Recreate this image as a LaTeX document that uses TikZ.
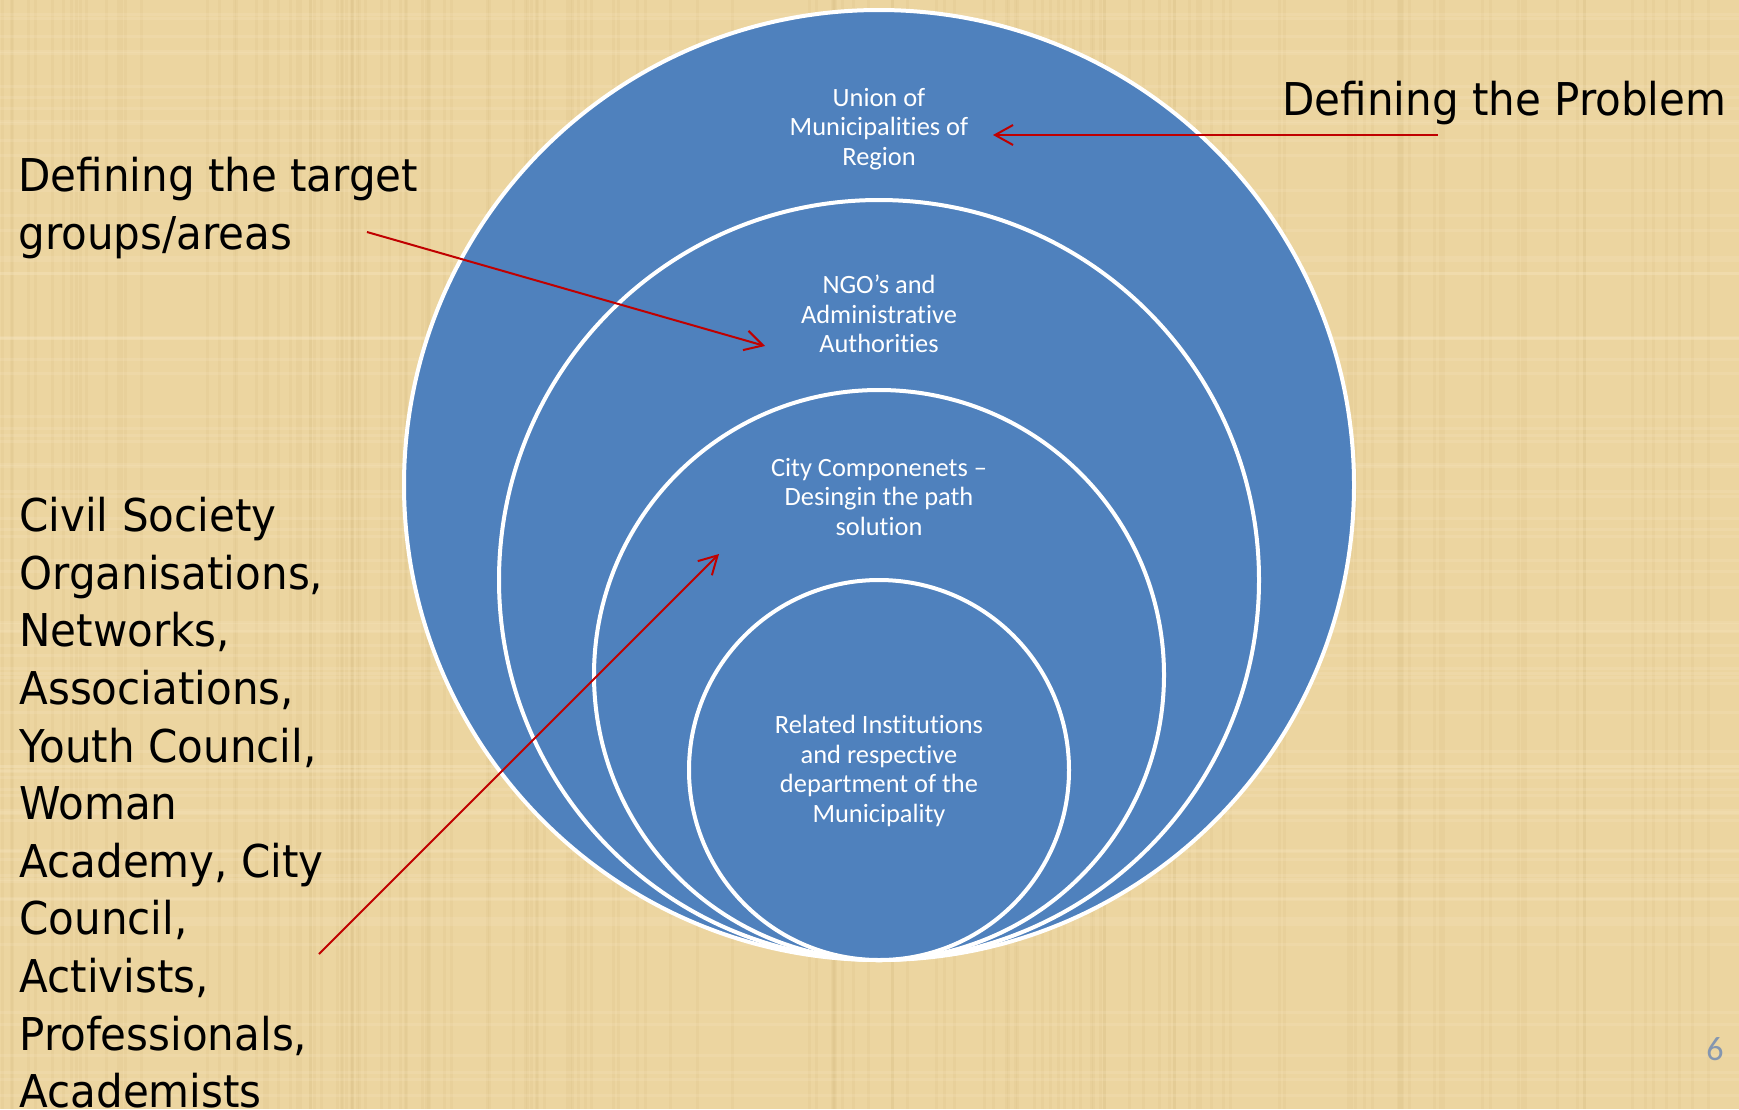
\documentclass[tikz,border=0pt]{standalone}
\usepackage{fontspec}
\setmainfont[Ligatures={NoCommon}]{Carlito}
\newfontfamily\slidefont[FakeStretch=0.93]{DejaVu Sans}
\usetikzlibrary{arrows.meta}
\definecolor{paper}{RGB}{236,213,160}
\definecolor{paperdark}{RGB}{200,170,110}
\definecolor{paperlight}{RGB}{250,235,200}
\definecolor{ringblue}{RGB}{79,129,189}
\definecolor{arrowred}{RGB}{192,0,0}
\definecolor{pagegray}{RGB}{132,150,176}

\begin{document}
\begin{tikzpicture}[x=0.5pt, y=-0.5pt,
    ring/.style = {draw=white, line width=2pt, fill=ringblue, circle, inner sep=0pt},
    ringtext/.style = {text=white, align=center, font=\fontsize{13.2}{14.75}\selectfont},
    sidetext/.style = {align=left, inner sep=0pt, font=\slidefont\fontsize{22.6}{28.8}\selectfont},
    pointer/.style = {draw=arrowred, line width=1pt, -{Straight Barb[length=9pt, width=10pt]}}]
    \useasboundingbox (0,0) rectangle (1739,1109);
    \fill[paper] (0,0) rectangle (1739,1109);
    % faint papyrus weave
    \pgfmathsetseed{11}
    \foreach \k in {1,...,150} {
        \pgfmathsetmacro{\sx}{rnd*1735}
        \fill[paperdark, opacity=0.10] (\sx,0) rectangle ++(3,1109);
    }
    \foreach \k in {1,...,80} {
        \pgfmathsetmacro{\sy}{rnd*1105}
        \fill[paperlight, opacity=0.18] (0,\sy) rectangle ++(1739,3);
    }

    % nested circles, all touching at the bottom
    \node[ring, minimum size=475pt] (region) at (879,485) {};
    \node[ring, minimum size=380pt] (ngo) at (879,580) {};
    \node[ring, minimum size=285pt] (city) at (879,675) {};
    \node[ring, minimum size=190pt] (dept) at (879,770) {};

    \node[ringtext] (regiontext) at (879,129) {Union of\\Municipalities of\\Region};
    \node[ringtext] (ngotext) at (879,314) {NGO’s and\\Administrative\\Authorities};
    \node[ringtext] (citytext) at (879,497) {City Componenets –\\Desingin the path\\solution};
    \node[ringtext] (depttext) at (879,771) {Related Institutions\\and respective\\department of the\\Municipality};

    % labels round the circles
    \node[sidetext, anchor=base west] (problem) at (1282,115) {Defining the Problem};
    \node[sidetext, anchor=north west] (target) at (18,157) {Defining the target\\groups/areas};
    \node[sidetext, anchor=north west] (civil) at (19,497) {Civil Society\\Organisations,\\Networks,\\Associations,\\Youth Council,\\Woman\\Academy, City\\Council,\\Activists,\\Professionals,\\Academists};

    \coordinate (probtail) at (1438,135);
    \coordinate (probtip) at (993,135);
    \coordinate (targettail) at (367,232);
    \coordinate (targettip) at (765,346);
    \coordinate (civiltail) at (319,954);
    \coordinate (civiltip) at (719,554);

    \draw[pointer] (probtail) -- (probtip);
    \draw[pointer] (targettail) -- (targettip);
    \draw[pointer] (civiltail) -- (civiltip);

    \node[text=pagegray, font=\fontsize{17}{20}\selectfont, anchor=base] (pageno) at (1715,1060) {6};
\end{tikzpicture}
\end{document}
